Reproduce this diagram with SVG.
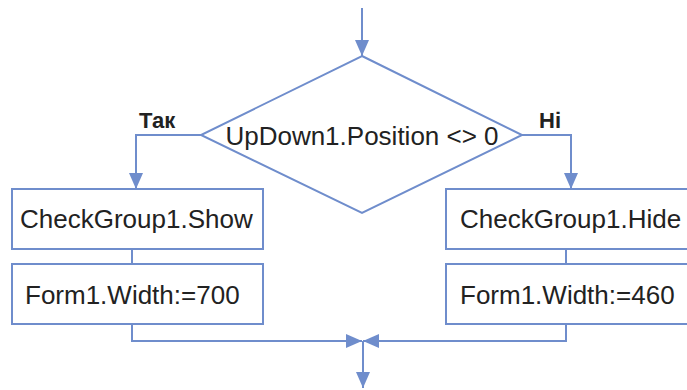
<svg xmlns="http://www.w3.org/2000/svg" width="687" height="390" viewBox="0 0 687 390">
<defs>
<style>
.ln{fill:none;stroke:#6f8dcc;stroke-width:2}
.box{fill:#ffffff;stroke:#6f8dcc;stroke-width:2}
.t{font-family:"Liberation Sans",Arial,sans-serif;font-size:26px;fill:#222222}
.lb{font-family:"Liberation Sans",Arial,sans-serif;font-size:22px;font-weight:bold;fill:#222222}
</style>
<marker id="ah" viewBox="0 0 16 14" refX="16" refY="7" markerWidth="16" markerHeight="14" markerUnits="userSpaceOnUse" orient="auto">
<path d="M0,0 L16,7 L0,14 Z" fill="#6f8dcc"/>
</marker>
</defs>
<rect width="687" height="390" fill="#ffffff"/>
<g id="connectors">
<line class="ln" x1="362" y1="8" x2="362" y2="56" marker-end="url(#ah)"/>
<polyline class="ln" points="201,135 136,135 136,189" marker-end="url(#ah)"/>
<polyline class="ln" points="522,135 571,135 571,189" marker-end="url(#ah)"/>
<line class="ln" x1="132" y1="249" x2="132" y2="264"/>
<line class="ln" x1="566" y1="249" x2="566" y2="264"/>
<polyline class="ln" points="132,324 132,341 362,341" marker-end="url(#ah)"/>
<polyline class="ln" points="566,324 566,341 363,341" marker-end="url(#ah)"/>
<line class="ln" x1="363" y1="341" x2="363" y2="388" marker-end="url(#ah)"/>
</g>
<g id="decision">
<polygon class="box" points="362,56 522,135 362,213 201,135"/>
<text class="t" x="362" y="145" text-anchor="middle">UpDown1.Position &lt;&gt; 0</text>
</g>
<g id="label-yes"><text class="lb" x="139" y="128">Так</text></g>
<g id="label-no"><text class="lb" x="539" y="128">Ні</text></g>
<g id="show">
<rect class="box" x="12" y="189" width="251" height="60"/>
<text class="t" x="20" y="228">CheckGroup1.Show</text>
</g>
<g id="width700">
<rect class="box" x="12" y="264" width="251" height="60"/>
<text class="t" x="25" y="304">Form1.Width:=700</text>
</g>
<g id="hide">
<rect class="box" x="446" y="189" width="251" height="60"/>
<text class="t" x="460" y="228">CheckGroup1.Hide</text>
</g>
<g id="width460">
<rect class="box" x="446" y="264" width="251" height="60"/>
<text class="t" x="460" y="304">Form1.Width:=460</text>
</g>
</svg>
